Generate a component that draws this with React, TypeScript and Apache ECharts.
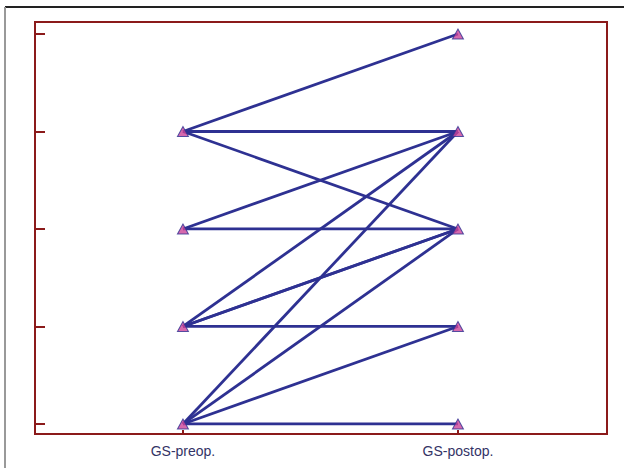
import React, { useEffect, useRef } from "react";
import * as echarts from "echarts";

const categories = ["GS-preop.", "GS-postop."];
const preop = [4, 4, 4, 3, 3, 2, 2, 2, 2, 1, 1, 1, 1];
const postop = [5, 4, 3, 4, 3, 4, 3, 3, 2, 4, 3, 2, 1];
const yTicks = [1, 2, 3, 4, 5];
const xPositions = [1, 2];

export default function App() {
  const ref = useRef<HTMLDivElement>(null);
  useEffect(() => {
    if (!ref.current) return;
    const chart = echarts.init(ref.current, null, { renderer: "svg" });
    const red = "#8B1A1A";
    const lineColor = "#2E3192";
    const lineSeries = preop.map((p, i) => ({
      type: "line",
      data: [
        [xPositions[0], p],
        [xPositions[1], postop[i]],
      ],
      showSymbol: false,
      silent: true,
      lineStyle: { color: lineColor, width: 2.8 },
      z: 2,
    }));
    const pts: number[][] = [];
    const seen = new Set<string>();
    preop.forEach((p, i) => {
      const a = `1-${p}`;
      const b = `2-${postop[i]}`;
      if (!seen.has(a)) { seen.add(a); pts.push([xPositions[0], p]); }
      if (!seen.has(b)) { seen.add(b); pts.push([xPositions[1], postop[i]]); }
    });
    chart.setOption({
      animation: false,
      backgroundColor: "#ffffff",
      grid: {
        left: 35,
        top: 22,
        right: 17,
        bottom: 34,
        show: true,
        borderColor: red,
        borderWidth: 2,
        backgroundColor: "transparent",
      },
      graphic: [
        { type: "line", shape: { x1: 5, y1: 7, x2: 624, y2: 7 }, style: { stroke: "#222", lineWidth: 2 } },
        { type: "line", shape: { x1: 5, y1: 7, x2: 5, y2: 468 }, style: { stroke: "#999", lineWidth: 2 } },
      ],
      xAxis: {
        type: "value",
        min: 0.462,
        max: 2.542,
        splitLine: { show: false },
        axisLine: { show: true, lineStyle: { color: red, width: 2 } },
        axisTick: { show: true, inside: true, length: 4, customValues: xPositions, lineStyle: { color: red, width: 2 } },
        axisLabel: {
          customValues: xPositions,
          formatter: (v: number) => categories[Math.round(v) - 1] ?? "",
          color: "#333366",
          fontSize: 14,
          fontFamily: "Liberation Sans, Arial, sans-serif",
          margin: 10,
        },
      },
      yAxis: {
        type: "value",
        min: 0.897,
        max: 5.123,
        splitLine: { show: false },
        axisLine: { show: true, lineStyle: { color: red, width: 2 } },
        axisTick: { show: true, inside: true, length: 10, customValues: yTicks, lineStyle: { color: red, width: 2 } },
        axisLabel: { show: false },
      },
      series: [
        ...lineSeries,
        {
          type: "scatter",
          data: pts,
          symbol: "triangle",
          symbolSize: [11, 10],
          symbolOffset: [0, 0],
          itemStyle: { color: "#CC4499", borderColor: lineColor, borderWidth: 1 },
          z: 5,
          silent: true,
        },
      ],
    });
    return () => chart.dispose();
  }, []);
  return (
    <div
      ref={ref}
      style={{ position: "fixed", left: 0, top: 0, width: 624, height: 468 }}
    />
  );
}
